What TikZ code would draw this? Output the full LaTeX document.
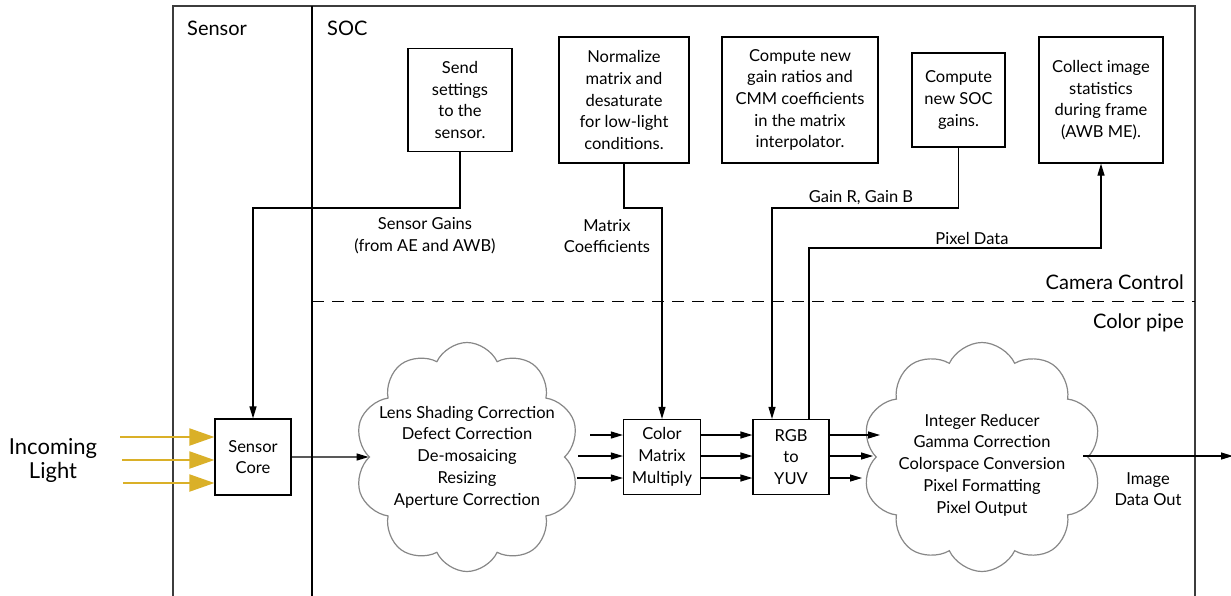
\documentclass[tikz,border=0pt]{standalone}
\usepackage{fontspec}
\setmainfont{Lato}
\usetikzlibrary{arrows.meta,shapes.symbols,calc}
\definecolor{lightgold}{RGB}{218,176,40}
\definecolor{cloudgray}{RGB}{135,135,135}
\definecolor{framegray}{RGB}{60,60,60}
\begin{document}
\begin{tikzpicture}[x=1pt,y=-1pt,
  box/.style={draw,line width=1.2pt,align=center,font=\fontsize{16.5}{21.7}\selectfont},
  txt/.style={align=center,font=\fontsize{16.5}{21.7}\selectfont},
  heading/.style={font=\fontsize{20}{24}\selectfont},
  arr/.style={line width=1.2pt,-{Triangle[length=12pt,width=7pt]}},
  wire/.style={line width=1.2pt},
  ray/.style={lightgold,line width=2pt,-{Triangle[length=25pt,width=17pt]}},
  puff/.style={cloud,draw=cloudgray,line width=1.2pt,cloud puffs=10,cloud puff arc=130,aspect=1}]
\tikzstyle{every node}+=[inner sep=0pt]
\useasboundingbox (0,0) rectangle (1231,595);
\draw [framegray,line width=1.2pt] (173,600) -- (173,6) -- (1195,6) -- (1195,600);
\draw [line width=1.8pt] (312,6) -- (312,600);
\draw [line width=1pt,dash pattern=on 12pt off 8pt] (312,301) -- (1195,301);
\node [heading,anchor=west] (sensorlbl) at (187,28) {Sensor};
\node [heading,anchor=west] (soclbl) at (327,28) {SOC};
\node [heading,anchor=east] (camlbl) at (1184,282) {Camera Control};
\node [heading,anchor=east] (pipelbl) at (1184,323) {Color pipe};
\node [box,minimum width=104pt,minimum height=103pt] (send) at (460,100) {Send\\settings\\to the\\sensor.};
\node [box,minimum width=130pt,minimum height=126pt] (norm) at (624,100) {Normalize\\matrix and\\desaturate\\for low-light\\conditions.};
\node [box,minimum width=156pt,minimum height=126pt] (ratio) at (800,100) {Compute new\\gain ratios and\\CMM coefficients\\in the matrix\\interpolator.};
\node [box,minimum width=93pt,minimum height=94pt] (socg) at (958.5,100) {Compute\\new SOC\\gains.};
\node [box,minimum width=124pt,minimum height=126pt] (stats) at (1101,100) {Collect image\\statistics\\during frame\\(AWB ME).};
\node [box,minimum width=76pt,minimum height=76pt] (core) at (253,457) {Sensor\\Core};
\node [box,minimum width=77pt,minimum height=75pt] (cm) at (662,457) {Color\\Matrix\\Multiply};
\node [box,minimum width=76pt,minimum height=75pt] (rgb) at (791,457) {RGB\\to\\YUV};
\node [puff,minimum width=225pt,minimum height=229pt] (pipeA) at (467,457) {};
\node [txt] (pipeAtxt) at (467,457) {Lens Shading Correction\\Defect Correction\\De-mosaicing\\Resizing\\Aperture Correction};
\node [puff,minimum width=240pt,minimum height=229pt] (pipeB) at (982,457) {};
\node [txt] (pipeBtxt) at (982,465) {Integer Reducer\\Gamma Correction\\Colorspace Conversion\\Pixel Formatting\\Pixel Output};
\node [txt,font=\fontsize{22}{24}\selectfont] (light) at (53,460) {Incoming\\Light};
\node [txt] (gainlbl) at (425,236) {Sensor Gains\\(from AE and AWB)};
\node [txt] (coeflbl) at (607,236) {Matrix\\Coefficients};
\node [txt] (rblbl) at (861,198) {Gain R, Gain B};
\node [txt] (pixlbl) at (972,238) {Pixel Data};
\node [txt] (outlbl) at (1148,489) {Image\\Data Out};
\coordinate (sg) at (0,208);
\coordinate (pd) at (0,248);
\coordinate (rgbin) at ($(rgb.north)+(-19,0)$);
\coordinate (rgbout) at ($(rgb.north)+(18,0)$);
\coordinate (l1) at (120,437);
\coordinate (l2) at (122,460);
\coordinate (l3) at (123,483);
\coordinate (a1) at (590,435);
\coordinate (a2) at (578,456);
\coordinate (a3) at (577,478);
\coordinate (b1) at (880,435);
\coordinate (b2) at (873,456);
\coordinate (b3) at (862,478);
\coordinate (o1) at (1083,456);
\coordinate (out) at (1233,456);
\draw [ray] (l1) -- (l1 -| core.west);
\draw [ray] (l2) -- (l2 -| core.west);
\draw [ray] (l3) -- (l3 -| core.west);
\draw [arr] (send.south) |- (core.north |- sg) -- (core.north);
\draw [arr] (norm.south) |- (cm.north |- sg) -- (cm.north);
\draw [arr] (socg.south) |- (rgbin |- sg) -- (rgbin);
\draw [arr] (rgbout) |- (stats.south |- pd) -- (stats.south);
\draw [arr] (core.east) -- (pipeA);
\draw [arr] (a1) -- (a1 -| cm.west);
\draw [arr] (a2) -- (a2 -| cm.west);
\draw [arr] (a3) -- (a3 -| cm.west);
\draw [arr] (cm.east |- a1) -- (rgb.west |- a1);
\draw [arr] (cm.east |- a2) -- (rgb.west |- a2);
\draw [arr] (cm.east |- a3) -- (rgb.west |- a3);
\draw [arr] (rgb.east |- b1) -- (b1);
\draw [arr] (rgb.east |- b2) -- (b2);
\draw [arr] (rgb.east |- b3) -- (b3);
\draw [arr] (o1) -- (out);
\end{tikzpicture}
\end{document}
